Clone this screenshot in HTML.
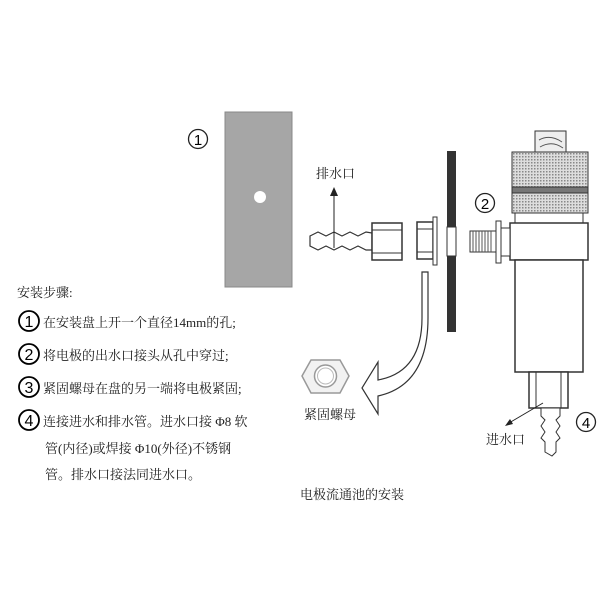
<!DOCTYPE html>
<html><head><meta charset="utf-8"><style>
body{margin:0;background:#fff}
svg{display:block}
text{font-family:"Liberation Serif","Noto Serif CJK SC",serif;fill:#222}
.cn{font-family:"Liberation Sans",sans-serif;fill:#000}
</style></head><body>
<svg width="600" height="600" viewBox="0 0 600 600" xmlns="http://www.w3.org/2000/svg">
<defs>
<pattern id="kn" width="3" height="3" patternUnits="userSpaceOnUse"><rect width="3" height="3" fill="#ddd"/><rect width="1.5" height="1.5" fill="#888"/></pattern>
</defs>
<rect x="225" y="112" width="67" height="175" fill="#a6a6a6" stroke="#888"/>
<circle cx="260" cy="197" r="6" fill="#fff"/>
<circle cx="198" cy="139" r="9.5" fill="none" stroke="#222" stroke-width="1.3"/><text class="cn" x="198" y="145" font-size="15" text-anchor="middle">1</text>
<rect x="447" y="151" width="9" height="76" fill="#333"/>
<rect x="447" y="256" width="9" height="76" fill="#333"/>
<rect x="447" y="227" width="9" height="29" fill="#fff" stroke="#333"/>
<path d="M310 236 L318 232 L326 236 L334 232 L342 236 L350 232 L358 236 L366 232 L372 233 L372 250 L366 250 L358 246 L350 250 L342 246 L334 250 L326 246 L318 250 L310 246 Z" fill="#fff" stroke="#333" stroke-width="1.2"/>
<rect x="372" y="223" width="30" height="37" fill="#fff" stroke="#333" stroke-width="1.5"/>
<line x1="372" y1="230" x2="402" y2="230" stroke="#333"/><line x1="372" y1="253" x2="402" y2="253" stroke="#333"/>
<rect x="417" y="222" width="16" height="37" fill="#fff" stroke="#333" stroke-width="1.5"/>
<line x1="417" y1="229" x2="433" y2="229" stroke="#333"/><line x1="417" y1="252" x2="433" y2="252" stroke="#333"/>
<rect x="433" y="217" width="4" height="48" fill="#fff" stroke="#333"/>
<line x1="334" y1="248" x2="334" y2="194" stroke="#222"/>
<path d="M330 196 L334 187 L338 196 Z" fill="#222"/>
<text x="316" y="178" font-size="13">排水口</text>
<path d="M422 272 L422 318 Q422 372 378 380 L378 362 L362 388 L378 414 L378 396 Q428 385 428 318 L428 272 Z" fill="#fff" stroke="#333" stroke-width="1.2"/>
<polygon points="311,360 340,360 349,376 340,393 311,393 302,376" fill="#f2f2f2" stroke="#999" stroke-width="1.5"/>
<circle cx="325.5" cy="376" r="11" fill="#fff" stroke="#999" stroke-width="1.5"/>
<circle cx="325.5" cy="376" r="8" fill="none" stroke="#bbb"/>
<text x="304" y="419" font-size="13">紧固螺母</text>
<rect x="535" y="131" width="31" height="21" fill="#eee" stroke="#333"/>
<path d="M539 140 Q550 134 562 142 M540 147 Q552 140 563 148" stroke="#555" fill="none"/>
<rect x="512" y="152" width="76" height="35" fill="url(#kn)" stroke="#333"/>
<rect x="512" y="187" width="76" height="6" fill="#777" stroke="#333"/>
<rect x="512" y="193" width="76" height="20" fill="url(#kn)" stroke="#333"/>
<rect x="515" y="213" width="68" height="10" fill="#fff" stroke="#333"/>
<rect x="510" y="223" width="78" height="37" fill="#fff" stroke="#333" stroke-width="1.5"/>
<rect x="515" y="260" width="68" height="112" fill="#fff" stroke="#333" stroke-width="1.5"/>
<rect x="496" y="221" width="5" height="42" fill="#fff" stroke="#333"/>
<rect x="501" y="228" width="9" height="28" fill="#fff" stroke="#333"/>
<rect x="470" y="231" width="26" height="21" fill="#fff" stroke="#333"/>
<path d="M473 231V252M476 231V252M479 231V252M482 231V252M485 231V252M488 231V252M491 231V252" stroke="#555"/>
<circle cx="485" cy="203" r="9.5" fill="none" stroke="#222" stroke-width="1.3"/><text class="cn" x="485" y="209" font-size="15" text-anchor="middle">2</text>
<rect x="529" y="372" width="39" height="36" fill="#fff" stroke="#333" stroke-width="1.5"/>
<line x1="536" y1="372" x2="536" y2="408" stroke="#333"/><line x1="561" y1="372" x2="561" y2="408" stroke="#333"/>
<path d="M541 408 L560 408 L560 416 L556 420 L560 426 L556 432 L560 438 L556 442 L556 452 L552 456 L545 452 L545 442 L541 438 L545 432 L541 426 L545 420 L541 416 Z" fill="#fff" stroke="#333"/>
<line x1="543" y1="403" x2="509" y2="423" stroke="#222"/>
<path d="M505 426 L510 419 L513 424 Z" fill="#222"/>
<text x="486" y="444" font-size="13">进水口</text>
<circle cx="586" cy="422" r="9.5" fill="none" stroke="#222" stroke-width="1.3"/><text class="cn" x="586" y="428" font-size="15" text-anchor="middle">4</text>
<text x="300" y="499" font-size="13">电极流通池的安装</text>
<text x="17" y="297" font-size="13">安装步骤:</text>
<g fill="none" stroke="#000" stroke-width="1.8">
<circle cx="29" cy="321" r="10"/><circle cx="29" cy="354" r="10"/><circle cx="29" cy="387" r="10"/><circle cx="29" cy="420" r="10"/>
</g>
<g class="cn" font-size="16" text-anchor="middle">
<text class="cn" x="29" y="327">1</text><text class="cn" x="29" y="360">2</text><text class="cn" x="29" y="393">3</text><text class="cn" x="29" y="426">4</text>
</g>
<g font-size="13">
<text x="43" y="327">在安装盘上开一个直径14mm的孔;</text>
<text x="43" y="360">将电极的出水口接头从孔中穿过;</text>
<text x="43" y="393">紧固螺母在盘的另一端将电极紧固;</text>
<text x="43" y="426">连接进水和排水管。进水口接 Φ8 软</text>
<text x="45" y="453">管(内径)或焊接 Φ10(外径)不锈钢</text>
<text x="45" y="479">管。排水口接法同进水口。</text>
</g>
</svg>
</body></html>
